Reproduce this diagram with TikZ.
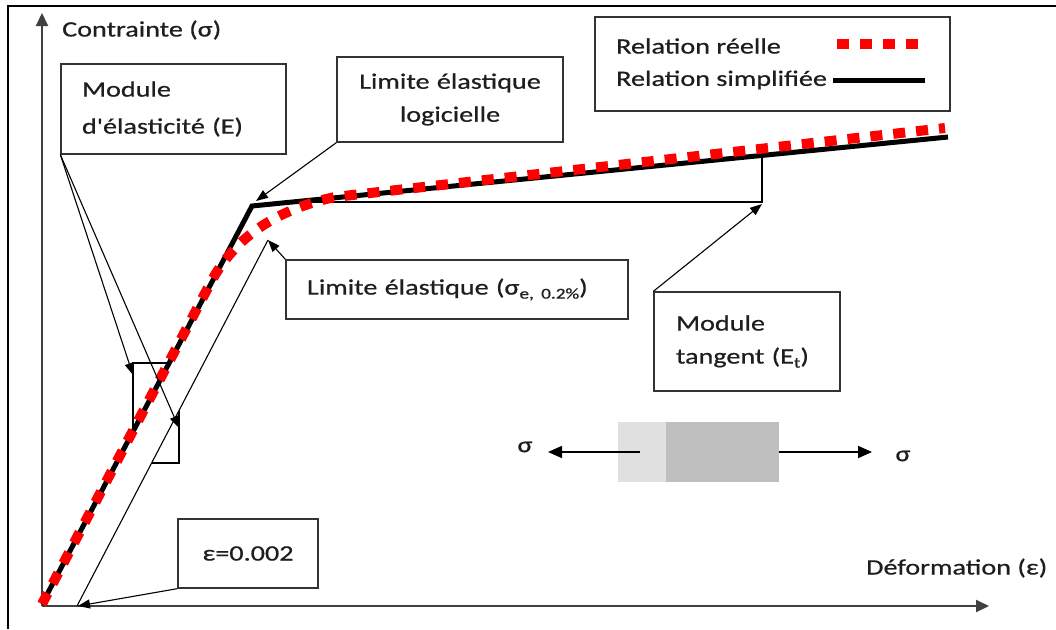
\documentclass[tikz,border=0pt]{standalone}
\usepackage{fontspec}
\setmainfont{Carlito}[FakeStretch=1.28, FakeBold=0.6, Ligatures=TeXOff]
\usetikzlibrary{arrows.meta}
\definecolor{txt}{HTML}{1E1E1E}
\definecolor{boxc}{HTML}{333333}
\definecolor{axisc}{HTML}{404040}
\definecolor{lightg}{HTML}{E0E0E0}
\definecolor{darkg}{HTML}{BFBFBF}
\begin{document}
\begin{tikzpicture}[x=1pt,y=-1pt, font=\fontsize{22}{34}\selectfont, text=txt,
  box/.style={draw=boxc, line width=1.3pt, inner sep=0pt, fill=white},
  lbl/.style={inner sep=0pt},
  thinarrow/.style={draw=black, line width=1.1pt, -{Triangle[width=9pt,length=12pt]}},
  axisline/.style={draw=axisc, line width=2pt, -{Triangle[width=12pt,length=13pt]}},
  forcearrow/.style={draw=black, line width=1.8pt, -{Triangle[width=12pt,length=14pt]}},
  simple/.style={draw=black, line width=5pt, line join=miter},
  real/.style={draw=red, line width=10pt, dash pattern=on 12pt off 11pt}]
\useasboundingbox (0,0) rectangle (1056,629);
% frame
\draw[line width=2pt] (1056,6) -- (8,6) -- (8,629);
% axes
\coordinate (O) at (42,606);
\coordinate (ytop) at (42,13);
\coordinate (xend) at (989,606);
\draw[axisline] (O) -- (ytop);
\draw[axisline] (O) -- (xend);
\node[lbl, anchor=west] (ylab) at (62,30) {Contrainte (σ)};
\node[lbl, anchor=west] (xlab) at (866,568) {Déformation (ε)};
% small slope rectangle partially hidden by the band
\draw[draw=black, line width=1.1pt] (133,363) rectangle (179,463);
\fill[white] (181.4,340) -- (215.9,340) -- (142.8,480) -- (107.5,480) -- cycle;
% offset line
\coordinate (off0) at (77,606);
\coordinate (off1) at (268,240);
\draw[black, line width=1.1pt] (off0) -- (off1);
% tangent triangle
\coordinate (t0) at (292,202);
\coordinate (t1) at (762,202);
\coordinate (t2) at (762,156);
\draw[black, line width=1.1pt] (t0) -- (t1) -- (t2);
% curves
\draw[simple] (42,604) -- (252,206) -- (948,137);
\draw[real] (42,604) -- (212,280) .. controls (234,241) and (270,211) .. (335,197) -- (945,128);
% boxes
\node[box, minimum width=225pt, minimum height=90pt, text width=183pt, align=left, font=\fontsize{22}{37}\selectfont] (emod) at (173.5,109) {Module\\d'élasticité (E)};
\node[box, minimum width=226pt, minimum height=85pt, text width=200pt, align=center, font=\fontsize{22}{33}\selectfont] (logi) at (450,99.5) {Limite élastique\\logicielle};
\node[box, minimum width=342pt, minimum height=59pt, text width=300pt, align=left] (lim) at (457,289.5) {Limite élastique (σ{\fontsize{15}{15}\selectfont\raisebox{-4pt}{e, 0.2\%}})};
\node[box, minimum width=186pt, minimum height=99pt, text width=142pt, align=left, font=\fontsize{22}{33}\selectfont] (tang) at (747,341.5) {Module\\tangent (E{\fontsize{15}{15}\selectfont\raisebox{-4pt}{t}})};
\node[box, minimum width=140pt, minimum height=69pt, align=center] (eps) at (248,553.5) {ε=0.002};
% legend
\node[box, minimum width=355pt, minimum height=94pt] (leg) at (772.5,64) {};
\node[lbl, anchor=west] (legr) at (616,46) {Relation réelle};
\node[lbl, anchor=west] (legs) at (616,80) {Relation simplifiée};
\coordinate (lr0) at (837,44);
\coordinate (lr1) at (919,44);
\coordinate (ls0) at (833,80);
\coordinate (ls1) at (925,80);
\draw[real] (lr0) -- (lr1);
\draw[simple] (ls0) -- (ls1);
% callout arrows
\coordinate (e1) at (133,375);
\coordinate (e2) at (179,428);
\coordinate (ky) at (256,201);
\coordinate (ly) at (268,240);
\coordinate (tg) at (762,204);
\coordinate (ez) at (78,606);
\draw[thinarrow] (emod.south west) -- (e1);
\draw[thinarrow] (emod.south west) -- (e2);
\draw[thinarrow] (logi.south west) -- (ky);
\draw[thinarrow] (lim.north west) -- (ly);
\draw[thinarrow] (tang.north west) -- (tg);
\draw[thinarrow] (eps.south west) -- (ez);
% specimen
\node[fill=lightg, minimum width=48pt, minimum height=60pt, inner sep=0pt] (spl) at (642,452) {};
\node[fill=darkg, minimum width=113pt, minimum height=60pt, inner sep=0pt] (spr) at (722.5,452) {};
\coordinate (al) at (548,452);
\coordinate (ar) at (872,452);
\draw[forcearrow] ([xshift=-2pt]spl.center) -- (al);
\draw[forcearrow] (spr.east) -- (ar);
\node[lbl] (sl) at (525,447) {σ};
\node[lbl] (sr) at (903,456) {σ};
\end{tikzpicture}
\end{document}
